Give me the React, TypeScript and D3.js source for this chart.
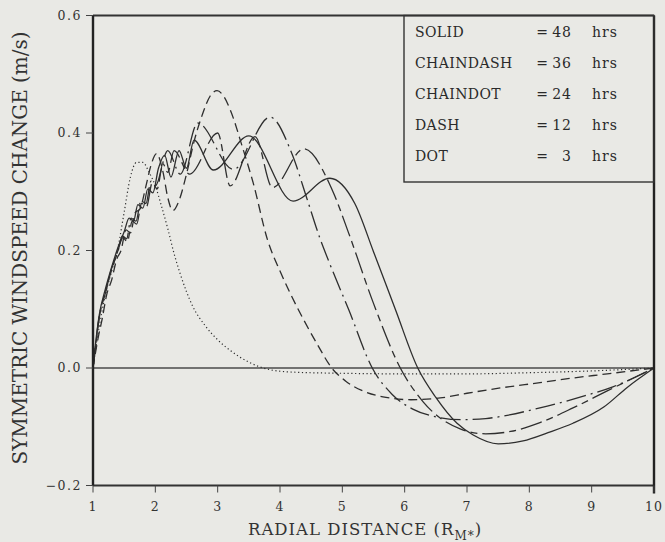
import React from 'react';
import * as d3 from 'd3';

const xTicks = [1, 2, 3, 4, 5, 6, 7, 8, 9, 10];
const yTicks = [-0.2, 0, 0.2, 0.4, 0.6];
const yTickLabels = ['\u22120.2', '0.0', '0.2', '0.4', '0.6'];

const legendNames = ['SOLID', 'CHAINDASH', 'CHAINDOT', 'DASH', 'DOT'];
const legendHours = ['48', '36', '24', '12', '3'];

// 48 hrs (solid)
const solid48: [number, number][] = [
  [1.0, 0.0], [1.05, 0.05], [1.1, 0.09], [1.2, 0.135], [1.3, 0.172], [1.4, 0.205], [1.5, 0.232],
  [1.58, 0.255], [1.65, 0.25], [1.72, 0.278], [1.8, 0.272], [1.88, 0.305], [1.96, 0.298],
  [2.05, 0.34], [2.15, 0.362], [2.25, 0.325], [2.38, 0.37], [2.5, 0.34], [2.62, 0.388],
  [2.93, 0.337], [3.5, 0.395], [4.21, 0.284], [4.8, 0.323], [5.2, 0.28], [5.5, 0.198],
  [5.85, 0.1], [6.21, 0.0], [6.5, -0.05], [6.84, -0.094], [7.1, -0.114], [7.5, -0.129],
  [7.9, -0.124], [8.3, -0.11], [8.7, -0.094], [9.2, -0.066], [9.57, -0.033], [10, 0.0],
];

// 36 hrs (chain dash)
const chainDash36: [number, number][] = [
  [1.0, 0.0], [1.05, 0.045], [1.1, 0.085], [1.2, 0.13], [1.3, 0.168], [1.4, 0.2], [1.48, 0.222],
  [1.55, 0.215], [1.63, 0.25], [1.7, 0.245], [1.78, 0.28], [1.86, 0.275], [1.95, 0.315],
  [2.03, 0.305], [2.12, 0.348], [2.2, 0.333], [2.3, 0.37], [2.55, 0.33], [3.0, 0.4],
  [3.2, 0.31], [3.6, 0.394], [3.88, 0.307], [4.38, 0.373], [4.85, 0.3], [5.1, 0.23],
  [5.5, 0.11], [5.93, 0.0], [6.3, -0.058], [6.9, -0.104], [7.3, -0.112], [7.7, -0.108],
  [8.17, -0.093], [8.7, -0.068], [9.25, -0.039], [10, 0.0],
];

// 24 hrs (chain dot)
const chainDot24: [number, number][] = [
  [1.0, 0.0], [1.05, 0.048], [1.1, 0.088], [1.2, 0.128], [1.3, 0.17], [1.4, 0.198], [1.47, 0.225],
  [1.54, 0.22], [1.61, 0.255], [1.69, 0.25], [1.77, 0.285], [1.85, 0.28], [1.93, 0.318],
  [2.0, 0.31], [2.2, 0.37], [2.4, 0.33], [2.68, 0.417], [3.25, 0.338], [3.84, 0.427],
  [4.19, 0.365], [4.43, 0.289], [4.64, 0.221], [4.8, 0.177], [5.1, 0.1], [5.48, 0.0],
  [5.8, -0.045], [6.13, -0.07], [6.5, -0.083], [6.9, -0.088], [7.3, -0.086], [8.17, -0.068],
  [8.8, -0.05], [9.34, -0.032], [10, 0.0],
];

// 12 hrs (dash)
const dash12: [number, number][] = [
  [1.0, 0.0], [1.08, 0.05], [1.15, 0.085], [1.22, 0.125], [1.3, 0.15], [1.38, 0.185], [1.45, 0.2],
  [1.53, 0.235], [1.6, 0.23], [1.68, 0.265], [1.75, 0.27], [1.85, 0.31], [1.93, 0.345],
  [2.02, 0.365], [2.12, 0.335], [2.2, 0.29], [2.28, 0.268], [2.38, 0.285], [2.5, 0.33],
  [2.62, 0.385], [2.75, 0.43], [2.88, 0.463], [2.99, 0.472], [3.1, 0.462], [3.2, 0.44],
  [3.4, 0.375], [3.57, 0.315], [3.8, 0.218], [4.0, 0.165], [4.16, 0.128], [4.4, 0.078],
  [4.6, 0.04], [4.83, 0.0], [5.05, -0.022], [5.33, -0.039], [5.7, -0.05], [6.1, -0.054],
  [6.57, -0.051], [7.0, -0.043], [7.6, -0.033], [8.17, -0.025], [8.7, -0.017], [9.25, -0.01],
  [10, 0.0],
];

// 3 hrs (dot)
const dot3: [number, number][] = [
  [1.0, 0.0], [1.1, 0.07], [1.2, 0.125], [1.3, 0.165], [1.4, 0.205], [1.5, 0.265], [1.6, 0.325],
  [1.7, 0.35], [1.8, 0.35], [1.9, 0.333], [2.0, 0.31], [2.1, 0.275], [2.2, 0.237], [2.3, 0.195],
  [2.4, 0.16], [2.6, 0.105], [2.8, 0.072], [3.0, 0.048], [3.2, 0.03], [3.5, 0.01], [3.8, -0.002],
  [4.2, -0.007], [5, -0.009], [6, -0.01], [7, -0.01], [8, -0.008], [9, -0.005], [10, 0.0],
];

export default function App() {
  const W = 665;
  const H = 542;
  const left = 93, right = 654, top = 15.5, bottom = 485.5;
  const x = d3.scaleLinear().domain([1, 10]).range([left, right]);
  const y = d3.scaleLinear().domain([-0.2, 0.6]).range([bottom, top]);
  const line = d3
    .line<[number, number]>()
    .x((d) => x(d[0]))
    .y((d) => y(d[1]))
    .curve(d3.curveMonotoneX);

  const ink = '#2e2e2e';
  const font = "'DejaVu Serif', 'Liberation Serif', serif";

  const series = [
    { data: solid48, dash: undefined as string | undefined, w: 1.3 },
    { data: chainDash36, dash: '22 5 7 5', w: 1.3 },
    { data: chainDot24, dash: '20 5 2 5', w: 1.3 },
    { data: dash12, dash: '9 5', w: 1.3 },
    { data: dot3, dash: '1.2 2.6', w: 1.2 },
  ];

  const legendTop = 37;
  const legendStep = 31;

  return (
    <svg width={W} height={H} style={{ display: 'block', position: 'absolute', left: 0, top: 0, background: '#e9e9e5' }}>
      <rect x={0} y={0} width={W} height={H} fill="#e9e9e5" />
      {/* zero line */}
      <line x1={left} x2={right} y1={y(0)} y2={y(0)} stroke="#4a4a4a" strokeWidth={1.3} />
      {/* curves */}
      {series.map((s, i) => (
        <path
          key={i}
          d={line(s.data) || ''}
          fill="none"
          stroke={ink}
          strokeWidth={s.w}
          strokeDasharray={s.dash}
        />
      ))}
      {/* frame */}
      <line x1={left} x2={right} y1={top} y2={top} stroke="#333" strokeWidth={2} />
      <line x1={left} x2={right} y1={bottom} y2={bottom} stroke="#333" strokeWidth={2} />
      <line x1={left} x2={left} y1={top} y2={bottom} stroke="#222" strokeWidth={2.4} />
      <line x1={right} x2={right} y1={top} y2={bottom + 8} stroke="#222" strokeWidth={2.4} />
      {/* y ticks */}
      {yTicks.map((t, i) => (
        <g key={'yt' + i}>
          <line x1={left - 7} x2={left} y1={y(t)} y2={y(t)} stroke="#444" strokeWidth={1} />
          <text
            x={82}
            y={y(t)}
            dy="0.35em"
            textAnchor="end"
            fontFamily={font}
            fontSize={12.5}
            letterSpacing={1.5}
            fill="#333"
          >
            {yTickLabels[i]}
          </text>
        </g>
      ))}
      {/* x ticks */}
      {xTicks.map((t) => (
        <g key={'xt' + t}>
          <line x1={x(t)} x2={x(t)} y1={bottom} y2={bottom + 7} stroke="#444" strokeWidth={1} />
          <text
            x={x(t)}
            y={511}
            textAnchor="middle"
            fontFamily={font}
            fontSize={12.5}
            letterSpacing={1}
            fill="#333"
          >
            {t}
          </text>
        </g>
      ))}
      {/* legend box */}
      <rect x={404} y={top} width={right - 404} height={182 - top} fill="none" stroke="#333" strokeWidth={1.4} />
      {legendNames.map((n, i) => (
        <g key={'lg' + i} fontFamily={font} fontSize={14} fill="#2a2a2a">
          <text x={415} y={legendTop + i * legendStep} letterSpacing={0.4}>{n}</text>
          <text x={542} y={legendTop + i * legendStep} textAnchor="middle">=</text>
          <text x={572} y={legendTop + i * legendStep} textAnchor="end" letterSpacing={1}>{legendHours[i]}</text>
          <text x={592} y={legendTop + i * legendStep} letterSpacing={1}>hrs</text>
        </g>
      ))}
      {/* axis titles */}
      <text
        transform={`translate(27, 248) rotate(-90)`}
        textAnchor="middle"
        fontFamily={font}
        fontSize={21}
        textLength={433}
        lengthAdjust="spacingAndGlyphs"
        fill="#333"
      >
        SYMMETRIC WINDSPEED CHANGE (m/s)
      </text>
      <text x={248} y={535} fontFamily={font} fontSize={16.5} letterSpacing={1} fill="#333">
        RADIAL DISTANCE (R
        <tspan fontSize={12} dy={5}>M*</tspan>
        <tspan dy={-5}>)</tspan>
      </text>
    </svg>
  );
}
